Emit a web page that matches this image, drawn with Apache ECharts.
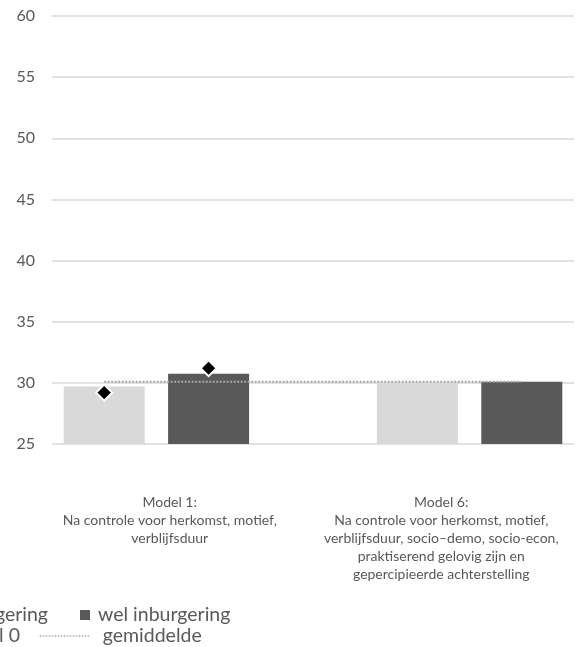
<!DOCTYPE html>
<html>
<head>
<meta charset="utf-8">
<script src="https://cdn.jsdelivr.net/npm/echarts@6/dist/echarts.min.js"></script>
<style>
  html, body { margin: 0; padding: 0; background: #fff; }
  #chart { width: 577px; height: 647px; }
</style>
</head>
<body>
<div id="chart"></div>
<script>
const models = [
  "Model 1:\nNa controle voor herkomst, motief,\nverblijfsduur",
  "Model 6:\nNa controle voor herkomst, motief,\nverblijfsduur, socio–demo, socio-econ,\npraktiserend gelovig zijn en\ngepercipieerde achterstelling"
];
const geenInburgering = [29.7, 30.0];
const welInburgering = [30.75, 30.1];
const model0 = [29.2, 31.2]; // only shown for model 1 (geen, wel)
const gemiddelde = 30.1;
const yTicks = { min: 25, max: 60, interval: 5 };

// bar slots: geen / wel per model, with an empty slot between the models
const slots = ["m1 geen", "m1 wel", "", "m6 geen", "m6 wel"];
const slotGeen = [geenInburgering[0], "-", "-", geenInburgering[1], "-"];
const slotWel = ["-", welInburgering[0], "-", "-", welInburgering[1]];
const slotModel0 = [model0[0], model0[1], "-", "-", "-"];
const slotGem = slots.map(() => gemiddelde);

const font = "Lato";
const textColor = "#595959";

function legendItem(name, pos, iconW, gap, extra) {
  return Object.assign({
    data: [name],
    selectedMode: false,
    padding: 0,
    itemGap: 0,
    itemWidth: iconW,
    itemHeight: 10,
    textStyle: { fontFamily: font, fontSize: 19.5, lineHeight: 18, color: textColor, padding: [0, 0, 0, gap] }
  }, pos, extra);
}

const chart = echarts.init(document.getElementById("chart"));
chart.setOption({
  animation: false,
  textStyle: { fontFamily: font },
  grid: [
    { left: 52, width: 522, top: 16, height: 428 },
    { left: 34, width: 548, top: 16, height: 428 }
  ],
  xAxis: [
    { type: "category", gridIndex: 0, data: slots, show: false },
    {
      type: "category", gridIndex: 1, data: models,
      axisLine: { show: false }, axisTick: { show: false },
      axisLabel: { interval: 0, margin: 49, fontFamily: font, fontSize: 14, lineHeight: 18, color: textColor }
    }
  ],
  yAxis: [
    {
      type: "value", gridIndex: 0, min: yTicks.min, max: yTicks.max, interval: yTicks.interval,
      axisLine: { show: false }, axisTick: { show: false },
      axisLabel: { margin: 17, fontFamily: font, fontSize: 16, color: textColor },
      splitLine: { lineStyle: { color: "#d9d9d9", width: 1.5 } }
    },
    { type: "value", gridIndex: 1, min: yTicks.min, max: yTicks.max, show: false }
  ],
  legend: [
    legendItem("geen inburgering", { right: 529, top: 605 }, 10, 3, { icon: "rect" }),
    legendItem("wel inburgering", { left: 80, top: 605 }, 10, 3, { icon: "rect" }),
    legendItem("model 0", { right: 557, top: 626 }, 51, 7, {}),
    legendItem("gemiddelde", { left: 39, top: 626 }, 51, 7, {
      itemStyle: { opacity: 0 },
      lineStyle: { color: "#a6a6a6", width: 1.5, type: [1.5, 1.5] }
    })
  ],
  series: [
    {
      name: "geen inburgering", type: "bar", xAxisIndex: 0, yAxisIndex: 0,
      data: slotGeen, barWidth: 81, barGap: "-100%",
      itemStyle: { color: "#d9d9d9" }
    },
    {
      name: "wel inburgering", type: "bar", xAxisIndex: 0, yAxisIndex: 0,
      data: slotWel, barWidth: 81, barGap: "-100%",
      itemStyle: { color: "#595959" }
    },
    {
      name: "gemiddelde", type: "line", xAxisIndex: 0, yAxisIndex: 0,
      data: slotGem, showSymbol: false, symbol: "none", z: 3,
      lineStyle: { color: "#a6a6a6", width: 2, type: [2, 1.5] },
      itemStyle: { color: "#a6a6a6" }
    },
    {
      name: "model 0", type: "scatter", xAxisIndex: 0, yAxisIndex: 0,
      data: slotModel0, symbol: "diamond", symbolSize: 16, z: 4,
      itemStyle: { color: "#000", borderColor: "#fff", borderWidth: 2, opacity: 1 }
    }
  ]
});
</script>
</body>
</html>
